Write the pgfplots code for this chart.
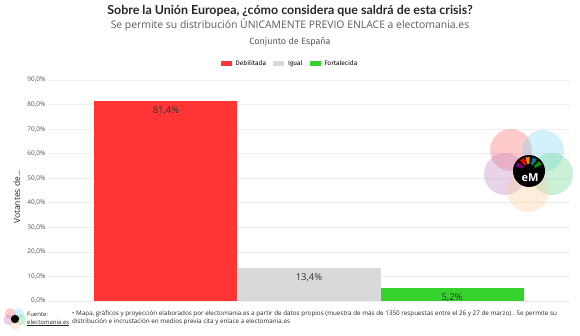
\documentclass[border=0pt]{standalone}
\usepackage{pgfplots}
\pgfplotsset{compat=1.18}
\usepackage{fontspec}
\setmainfont{Open Sans}
\newfontfamily\fira{Fira Sans}
\newfontfamily\lato{Lato}
\definecolor{cRed}{HTML}{FF3535}
\definecolor{cGray}{HTML}{D9D9D9}
\definecolor{cGreen}{HTML}{35D22E}
\definecolor{cGrid}{HTML}{EEEEEE}
\definecolor{cTick}{HTML}{555555}
\begin{document}
\begin{tikzpicture}[x=1pt,y=1pt]
\path[use as bounding box] (0,0) rectangle (580,335);
\begin{axis}[
  at={(48pt,34pt)}, anchor=south west,
  scale only axis, width=522pt, height=221pt,
  ymin=0, ymax=90, xmin=-1.825, xmax=1.825,
  ytick={0,10,...,90},
  xtick=\empty,
  axis line style={draw=none},
  major tick length=0pt,
  ymajorgrids, grid style={cGrid, line width=0.6pt},
  yticklabel={\pgfmathprintnumber[fixed,fixed zerofill,precision=1,use comma]{\tick}\%},
  yticklabel style={font=\fontsize{6.5}{7}\selectfont, text=cTick, xshift=1pt},
  /pgf/number format/assume math mode=true,
  ybar, bar width=143pt, bar shift=0pt,
  nodes near coords={\pgfmathprintnumber[fixed,fixed zerofill,precision=1,use comma]{\pgfplotspointmeta}\%},
  nodes near coords style={anchor=north, yshift=-2pt, font=\fontsize{9.5}{10}\selectfont, text=black!80},
  legend columns=3,
  legend style={at={(0.5,1)}, anchor=south, xshift=-19pt, yshift=9pt, draw=none, fill=none,
    font=\fira\fontsize{6.5}{7}\selectfont, column sep=2pt,
    /tikz/every even column/.append style={column sep=5pt}},
  legend image code/.code={\fill[#1] (0pt,-2.5pt) rectangle (11pt,3pt);},
]
\addplot[fill=cRed, draw=none] coordinates {(-1,81.4)};
\addlegendentry{Debilitada}
\addplot[fill=cGray, draw=none] coordinates {(0,13.4)};
\addlegendentry{Igual}
\addplot[fill=cGreen, draw=none] coordinates {(1,5.2)};
\addlegendentry{Fortalecida}
\end{axis}
% titles
\node[font=\lato\bfseries\fontsize{12.4}{14}\selectfont, text=black!85] at (290,324) {Sobre la Unión Europea, ¿cómo considera que saldrá de esta crisis?};
\node[font=\fontsize{10.4}{13}\selectfont, text=black!65] at (290,310) {Se permite su distribución ÚNICAMENTE PREVIO ENLACE a electomania.es};
\node[font=\fira\fontsize{9}{11}\selectfont, text=black!65] at (290,293) {Conjunto de España};
% y label
\node[rotate=90, font=\fontsize{8.5}{10}\selectfont, text=black!85] at (17,138) {Votantes de...};
% big logo
\begin{scope}[fill opacity=0.35]
\fill[red!60] (511,185) circle (21);
\fill[cyan!50] (543,184) circle (21);
\fill[violet!50] (505,161) circle (21);
\fill[green!45!teal!60] (552,161) circle (21);
\fill[orange!40] (528,144) circle (21);
\end{scope}
\fill[black] (529,164) circle (16);
\foreach \a/\c in {160/violet,130/red,105/orange,75/teal,45/green!60!black}{
  \fill[\c] (529,164) ++(\a:7) -- ++(\a:7) arc[start angle=\a, delta angle=-18, radius=14] -- ++(\a-18:-7) -- cycle;
}
\node[text=white, font=\bfseries\fontsize{11}{12}\selectfont] at (530,157) {eM};
% small logo
\begin{scope}[shift={(15,16)}, scale=0.26]
\begin{scope}[fill opacity=0.35]
\fill[red!60] (-18,21) circle (21);
\fill[cyan!50] (14,20) circle (21);
\fill[violet!50] (-24,-3) circle (21);
\fill[green!45!teal!60] (23,-3) circle (21);
\fill[orange!40] (-1,-20) circle (21);
\end{scope}
\fill[black] (0,0) circle (16);
\end{scope}
% footer
\node[anchor=west, font=\fontsize{6}{8}\selectfont, text=black!85, inner sep=0pt] at (27,21) {Fuente:};
\node[anchor=west, font=\fontsize{6}{8}\selectfont, text=black!85, inner sep=0pt] at (27,12) {\underbar{electomania.es}};
\node[anchor=north west, align=left, font=\fontsize{6.3}{8.6}\selectfont, text=black!85, inner sep=0pt] at (72,25) {• Mapa, gráficos y proyección elaborados por electomania.es a partir de datos propios (muestra de más de 1350 respuestas entre el 26 y 27 de marzo) . Se permite su\\distribución e incrustación en medios previa cita y enlace a electomania.es};
\end{tikzpicture}
\end{document}
